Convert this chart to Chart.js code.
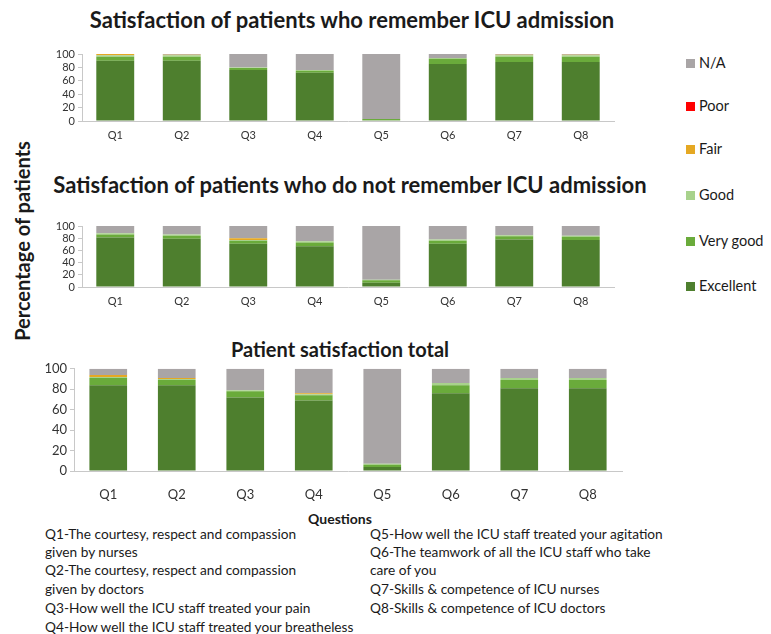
<!DOCTYPE html>
<html>
<head>
<meta charset="utf-8">
<script src="https://cdn.jsdelivr.net/npm/chart.js@4.4.1/dist/chart.umd.min.js"></script>
<style>
  body { margin: 0; background: #fff; font-family: Lato, sans-serif; color: #1a1a1a; }
  #wrap { position: relative; width: 771px; height: 634px; overflow: hidden; }
  .title { position: absolute; font-weight: bold; font-size: 22px; line-height: 26px; white-space: nowrap; transform: translateX(-50%); }
  canvas { position: absolute; }
  #ytitle { position: absolute; left: 22px; top: 241px; font-weight: bold; font-size: 20px; white-space: nowrap;
            transform: translate(-50%, -50%) rotate(-90deg); }
  #legend { position: absolute; left: 686px; top: 0; font-size: 14.5px; }
  #legend div { position: absolute; white-space: nowrap; }
  #legend span { display: inline-block; width: 9px; height: 9px; margin-right: 4px; }
  #notes { position: absolute; left: 0; top: 0; font-size: 13.7px; line-height: 17px; }
  #notes div { position: absolute; white-space: nowrap; }
</style>
</head>
<body>
<div id="wrap">
  <div class="title" style="left:352px;top:7px">Satisfaction of patients who remember ICU admission</div>
  <canvas id="c1" width="584" height="105" style="left:40px;top:44px"></canvas>
  <div class="title" style="left:350px;top:172px">Satisfaction of patients who do not remember ICU admission</div>
  <canvas id="c2" width="584" height="99" style="left:40px;top:216px"></canvas>
  <div class="title" style="left:340px;top:336px;font-size:20px">Patient satisfaction total</div>
  <canvas id="c3" width="608" height="147" style="left:24px;top:358px"></canvas>
  <div id="ytitle">Percentage of patients</div>
  <div id="legend"></div>
  <div id="notes">
    <div style="left:340px;top:510px;font-weight:bold;font-size:14px;transform:translateX(-50%)">Questions</div>
    <div style="left:45px;top:525px">Q1-The courtesy, respect and compassion</div>
    <div style="left:45px;top:543px">given by nurses</div>
    <div style="left:45px;top:561px">Q2-The courtesy, respect and compassion</div>
    <div style="left:45px;top:580px">given by doctors</div>
    <div style="left:45px;top:599px">Q3-How well the ICU staff treated your pain</div>
    <div style="left:45px;top:618px">Q4-How well the ICU staff treated your breatheless</div>
    <div style="left:370px;top:525px">Q5-How well the ICU staff treated your agitation</div>
    <div style="left:370px;top:543px">Q6-The teamwork of all the ICU staff who take</div>
    <div style="left:370px;top:561px">care of you</div>
    <div style="left:370px;top:580px">Q7-Skills &amp; competence of ICU nurses</div>
    <div style="left:370px;top:599px">Q8-Skills &amp; competence of ICU doctors</div>
  </div>
</div>
<script>
const questions = ["Q1", "Q2", "Q3", "Q4", "Q5", "Q6", "Q7", "Q8"];
const ratings = ["Excellent", "Very good", "Good", "Fair", "Poor", "N/A"];
const colors = ["#4e7f2e", "#6aab3b", "#a8d28c", "#e5a823", "#ff0000", "#a9a5a6"];

// patients who remember ICU admission (%)
const remExcellent = [90, 90, 76, 72, 1, 85, 88, 88];
const remVeryGood  = [6, 6, 3, 3, 2, 8, 8, 8];
const remGood      = [2, 2, 1, 1, 0, 1, 2, 2];
const remFair      = [2, 1, 0, 0, 0, 0, 1, 1];
const remPoor      = [0, 0, 0, 0, 0, 0, 0, 0];
const remNA        = [0, 1, 20, 24, 97, 6, 1, 1];

// patients who do not remember ICU admission (%)
const notExcellent = [81, 79, 71, 67, 7, 71, 78, 77];
const notVeryGood  = [5, 5, 5, 6, 4, 5, 5, 5];
const notGood      = [2, 2, 1, 2, 1, 2, 2, 2];
const notFair      = [0, 0, 3, 0, 0, 0, 0, 0];
const notPoor      = [0, 0, 0, 0, 0, 0, 0, 0];
const notNA        = [12, 14, 20, 25, 88, 22, 15, 16];

// total (%)
const totExcellent = [84, 84, 72, 69, 4, 76, 81, 81];
const totVeryGood  = [7, 5, 6, 5, 2, 8, 8, 8];
const totGood      = [1, 1, 1, 1, 1, 2, 2, 2];
const totFair      = [2, 1, 0, 1, 0, 0, 0, 0];
const totPoor      = [0, 0, 0, 0, 0, 0, 0, 0];
const totNA        = [6, 9, 21, 24, 93, 14, 9, 9];

const yTicks = [0, 20, 40, 60, 80, 100];

function makeChart(id, series, cfg) {
  return new Chart(id, {
    type: "bar",
    data: {
      labels: questions,
      datasets: series.map((s, i) => ({
        label: ratings[i],
        data: s,
        backgroundColor: colors[i],
        borderWidth: 0,
        barPercentage: cfg.bar,
        categoryPercentage: 1,
      })),
    },
    options: {
      responsive: false,
      animation: false,
      layout: { padding: { top: 10, right: 10, left: 0, bottom: 0 } },
      plugins: { legend: { display: false }, tooltip: { enabled: false } },
      scales: {
        x: {
          stacked: true,
          grid: { display: false, drawTicks: false },
          border: { display: true, color: "#c8c8c8" },
          ticks: { color: "#333", font: { family: "Lato", size: cfg.font }, padding: cfg.xpad },
          afterFit: (scale) => { scale.height = cfg.xh; },
        },
        y: {
          stacked: true,
          min: 0,
          max: 100,
          afterBuildTicks: (scale) => { scale.ticks = yTicks.map((v) => ({ value: v })); },
          grid: { display: true, drawOnChartArea: false, drawTicks: true, tickLength: 4, color: "#c8c8c8" },
          border: { display: true, color: "#c8c8c8" },
          ticks: { color: "#333", autoSkip: false, font: { family: "Lato", size: cfg.font }, padding: 3 },
          afterFit: (scale) => { scale.width = cfg.yw; },
        },
      },
    },
  });
}

makeChart("c1", [remExcellent, remVeryGood, remGood, remFair, remPoor, remNA],
  { bar: 0.57, font: 11, xpad: 8, xh: 28, yw: 42 });
makeChart("c2", [notExcellent, notVeryGood, notGood, notFair, notPoor, notNA],
  { bar: 0.57, font: 11, xpad: 8, xh: 28, yw: 42 });
makeChart("c3", [totExcellent, totVeryGood, totGood, totFair, totPoor, totNA],
  { bar: 0.55, font: 13, xpad: 16, xh: 34, yw: 50 });

// shared legend, top entry first
const legendY = [54, 97, 140, 186, 232, 277];
const legend = document.getElementById("legend");
ratings.slice().reverse().forEach((name, i) => {
  const row = document.createElement("div");
  row.style.top = legendY[i] + "px";
  row.innerHTML = `<span style="background:${colors[colors.length - 1 - i]}"></span>${name}`;
  legend.appendChild(row);
});
</script>
</body>
</html>
